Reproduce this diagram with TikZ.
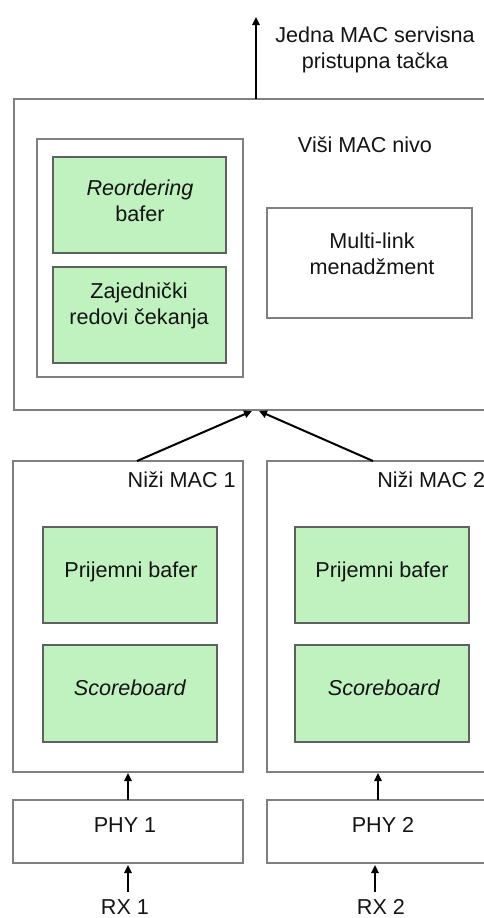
\documentclass[tikz,border=0pt]{standalone}
\usepackage{fontspec}
\setmainfont{Liberation Sans}
\usetikzlibrary{arrows.meta,fit}

\definecolor{boxline}{HTML}{808080}
\definecolor{greenline}{HTML}{606060}
\definecolor{greenfill}{HTML}{C0F2C0}
\definecolor{txt}{HTML}{141414}

\tikzset{
  plainbox/.style={draw=boxline, line width=1pt, inner sep=0pt, fill=white},
  greenbox/.style={draw=greenline, line width=1pt, inner sep=0pt, fill=greenfill},
  lbl/.style={inner sep=0pt, align=center, text=txt,
    font=\fontsize{16.2}{19.4}\selectfont},
  flow/.style={draw=black, line width=1.5pt,
    -{Triangle[length=6pt,width=5.5pt]}}
}

\begin{document}
\begin{tikzpicture}[x=0.75pt, y=-0.75pt]
\useasboundingbox (0,0) rectangle (484,918);
\clip (0,0) rectangle (484,918);

% upper MAC level
\node[plainbox, fit={(14,99) (492,410)}] (upper) {};
\node[plainbox, fit={(37,139) (243,377)}] (shared) {};
\node[greenbox, fit={(53,157) (226,253)}] (reorder) {};
\node[greenbox, fit={(53,267) (226,363)}] (queues) {};
\node[plainbox, fit={(267,208) (472,318)}] (mlm) {};

\node[lbl] (title) at (375,50) {Jedna MAC servisna\\pristupna tačka};
\node[lbl] (visi) at (365,145) {Viši MAC nivo};
\node[lbl] (reordertxt) at (140,201) {\textit{Reordering}\\bafer};
\node[lbl] (queuestxt) at (139,306) {Zajednički\\redovi čekanja};
\node[lbl] (mlmtxt) at (372,254) {Multi-link\\menadžment};

% lower MAC 1
\node[plainbox, fit={(13,461) (243,772)}] (low1) {};
\node[greenbox, fit={(43,527) (217,623)}] (rx1buf) {};
\node[greenbox, fit={(43,645) (217,742)}] (score1) {};
\node[lbl, anchor=east] (low1txt) at (236,480) {Niži MAC 1};
\node[lbl] (rx1buftxt) at (131,572) {Prijemni bafer};
\node[lbl] (score1txt) at (130,688) {\textit{Scoreboard}};

% lower MAC 2
\node[plainbox, fit={(267,461) (492,772)}] (low2) {};
\node[greenbox, fit={(295,527) (469,623)}] (rx2buf) {};
\node[greenbox, fit={(295,645) (469,742)}] (score2) {};
\node[lbl, anchor=west] (low2txt) at (377,480) {Niži MAC 2};
\node[lbl] (rx2buftxt) at (382,572) {Prijemni bafer};
\node[lbl] (score2txt) at (384,688) {\textit{Scoreboard}};

% PHY layer
\node[plainbox, fit={(13,800) (243,863)}] (phy1) {};
\node[plainbox, fit={(267,800) (492,863)}] (phy2) {};
\node[lbl] (phy1txt) at (125,825) {PHY 1};
\node[lbl] (phy2txt) at (383,825) {PHY 2};

% receive inputs
\node[lbl] (rx1) at (125,907) {RX 1};
\node[lbl] (rx2) at (381,907) {RX 2};

% connection points
\coordinate (sap) at (256,17);
\coordinate (sapfoot) at (256,99);
\coordinate (in1) at (252,411);
\coordinate (in2) at (259,411);
\coordinate (out1) at (137,461);
\coordinate (out2) at (373,461);
\coordinate (phy1top) at (128,800);
\coordinate (low1bot) at (128,773);
\coordinate (phy2top) at (378,800);
\coordinate (low2bot) at (378,773);
\coordinate (rx1top) at (128,892);
\coordinate (phy1bot) at (128,865);
\coordinate (rx2top) at (375,892);
\coordinate (phy2bot) at (375,865);

\draw[flow] (sapfoot) -- (sap);
\draw[flow] (out1) -- (in1);
\draw[flow] (out2) -- (in2);
\draw[flow] (phy1top) -- (low1bot);
\draw[flow] (phy2top) -- (low2bot);
\draw[flow] (rx1top) -- (phy1bot);
\draw[flow] (rx2top) -- (phy2bot);
\end{tikzpicture}
\end{document}
